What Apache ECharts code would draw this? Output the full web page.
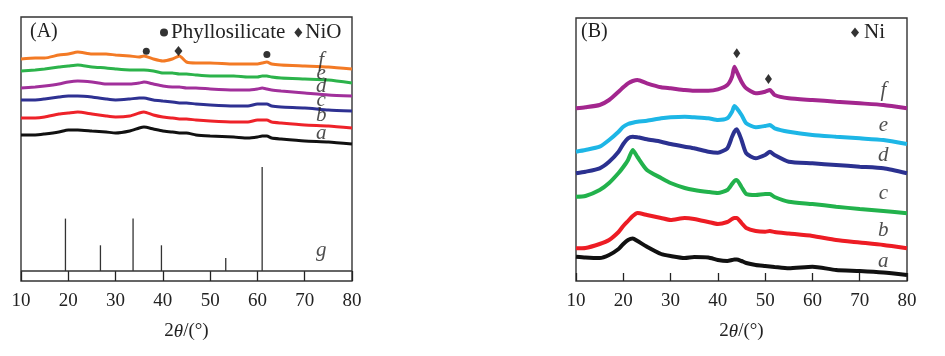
<!DOCTYPE html>
<html>
<head>
<meta charset="utf-8">
<script src="https://cdn.jsdelivr.net/npm/echarts@6/dist/echarts.min.js"></script>
<style>
html,body{margin:0;padding:0;background:#fff;}
#c{width:945px;height:356px;}
</style>
</head>
<body>
<div id="c"></div>
<script>
// ---------- Panel A (calcined samples) ----------
const angleA = [10,13,15,18,20,22,25,28,30,33,35,36,38,40,42,43.5,45,47,50,55,58,60,61,62,63,65,70,75,80];
const A_a = [146,146,147,149,151,151,150,149,148,150,153,154,152,150,149,148,148,146,145,144,143,144,145,145,143,142,140,139,137];
const A_b = [163,163,164,167,168,169,167,165,164,165,168,169,166,164,163,162,162,161,160,159,159,161,161,161,159,158,156,155,153];
const A_c = [181,181,182,184,185,185,184,182,181,182,183,183,181,180,179,178,178,177,176,175,175,177,177,177,175,174,173,171,170];
const A_d = [193,194,195,197,199,200,199,197,197,197,198,199,197,195,194,194,193,193,192,191,191,192,193,192,191,190,188,186,185];
const A_e = [210,211,212,214,215,216,214,213,212,211,211,211,210,208,208,207,207,206,205,205,204,204,205,205,204,203,202,201,198];
const A_f = [222,223,223,226,227,229,227,227,226,225,224,225,222,220,222,225,219,218,218,217,217,217,218,219,217,216,215,214,212];
// reference stick pattern g
const stickAngles = [19.4,26.8,33.7,39.7,53.3,61.0];
const stickTops = [62.4,35.7,62.4,35.7,23,114];
const stickBase = 10;
// peak markers
const phylloPeaks = [[36.5,229.7],[62.0,226.4]];
const nioPeaks = [[43.3,230]];
const labelsA = [['a',73.5,147.7],['b',73.5,165.7],['c',73.5,180.7],['d',73.5,194.7],['e',73.5,208],['f',73.5,220.7],['g',73.5,30.7]];

// ---------- Panel B (reduced samples) ----------
const angleB = [10,12,15,17,19,20,21,22,23,25,28,30,33,35,38,40,42,43,43.5,44,45,46,48,50,51,52,55,60,65,70,75,80];
const B_a = [24.3,23.5,23,26,32,37,41,42.5,40,34.3,27,25,23,24,23.5,21,20,21,21.5,21.5,20,18,16,15,14.5,14,12.7,14.3,11,10,8.5,6];
const B_b = [32.7,33,37,41,49,55,60,65,68,66,63,61,63,62,59,57,59,62,63,63,58,53,50,49.3,50,49,47.5,45,41,38.5,36,32.7];
const B_c = [84.3,85,91,98,108,114,121,131,124,111,103,98,93,91,89,88,91,97,100,101,94,87,86,87,87,84,79.3,77,74.3,72,70,67.7];
const B_d = [107.7,109.3,112.7,119.3,129.3,137,142.7,144.3,143.7,141.7,139.3,137,134.3,132.7,129.3,128.3,132.7,144.3,149.3,151.7,141,127.7,122.7,126,129.3,126,119.3,117.7,116,114.3,112.7,107.7];
const B_e = [129.3,131,134.3,141,149.3,154.3,157,158.3,159.3,160.3,162.7,163.7,164.3,163.7,162.7,161,162.7,169.3,175,172.7,166,157.7,153.7,155,156,152.7,149.3,146,144.3,142.7,141,137];
const B_f = [172.7,173.7,176,181,189.3,193.7,197.7,200,201,197.7,193.7,192.7,191,190.3,190.3,191.7,196,204.3,214.3,209.3,199.3,192.7,187.7,189.3,191,186,182.7,181,179.3,177.7,176,172.7];
const niPeaks = [[44.0,227.7],[50.7,202]];
const labelsB = [['a',75,19.3],['b',75,51],['c',75,87.7],['d',75,126],['e',75,156],['f',75,191]];

const xTicks = [10,20,30,40,50,60,70,80];

const zip = (xs, ys) => xs.map((x, i) => [x, ys[i]]);
const SERIF = '"Liberation Serif","Times New Roman",serif';

const colA = {a:'#111111', b:'#EE2229', c:'#2E3192', d:'#A1309B', e:'#2CB34B', f:'#F37A25'};
const colB = {a:'#111111', b:'#ED1C24', c:'#22B24C', d:'#2B3190', e:'#1DB6E6', f:'#A3268E'};

function lineSeries(name, data, color, idx, width) {
  return {
    name: name, type: 'line', xAxisIndex: idx, yAxisIndex: idx,
    data: data, showSymbol: false, symbol: 'none', smooth: 0.2,
    lineStyle: {color: color, width: width}, z: 3, silent: true
  };
}

function xAxisDef(idx, tickLen) {
  return {
    type: 'value', gridIndex: idx, min: 10, max: 80, interval: 10,
    axisLine: {show: false},
    axisTick: {show: true, inside: true, length: tickLen, lineStyle: {color: '#222', width: 1.3}},
    axisLabel: {show: true, margin: 11, color: '#222', fontFamily: SERIF, fontSize: 19,
      formatter: v => xTicks.includes(v) ? String(v) : ''},
    splitLine: {show: false},
    name: '{n|2}{i|θ}{n|/(°)}',
    nameLocation: 'middle', nameGap: 41,
    nameTextStyle: {rich: {
      n: {fontFamily: SERIF, fontSize: 19, color: '#222'},
      i: {fontFamily: SERIF, fontSize: 19, fontStyle: 'italic', color: '#222'}
    }}
  };
}

const series = [];
['a','b','c','d','e','f'].forEach(k => {
  const ys = {a:A_a,b:A_b,c:A_c,d:A_d,e:A_e,f:A_f}[k];
  series.push(lineSeries('A-' + k, zip(angleA, ys), colA[k], 0, 3));
});
['a','b','c','d','e','f'].forEach(k => {
  const ys = {a:B_a,b:B_b,c:B_c,d:B_d,e:B_e,f:B_f}[k];
  series.push(lineSeries('B-' + k, zip(angleB, ys), colB[k], 1, 4));
});
// baseline of stick pattern
series.push({
  type: 'line', xAxisIndex: 0, yAxisIndex: 0, data: [[10, stickBase],[80, stickBase]],
  symbol: 'none', lineStyle: {color: '#333', width: 1.3}, silent: true
});
// sticks
series.push({
  type: 'custom', xAxisIndex: 0, yAxisIndex: 0, silent: true,
  data: zip(stickAngles, stickTops),
  renderItem: function (params, api) {
    const p0 = api.coord([api.value(0), stickBase]);
    const p1 = api.coord([api.value(0), api.value(1)]);
    return {type: 'line', shape: {x1: p0[0], y1: p0[1], x2: p1[0], y2: p1[1]},
      style: {stroke: '#333', lineWidth: 1.3}};
  }
});
// peak markers
series.push({name: 'Phyllosilicate', type: 'scatter', xAxisIndex: 0, yAxisIndex: 0,
  data: phylloPeaks, symbol: 'circle', symbolSize: 7, itemStyle: {color: '#000'}, z: 5});
series.push({name: 'NiO', type: 'scatter', xAxisIndex: 0, yAxisIndex: 0,
  data: nioPeaks, symbol: 'diamond', symbolSize: [8, 10], itemStyle: {color: '#000'}, z: 5});
series.push({name: 'Ni', type: 'scatter', xAxisIndex: 1, yAxisIndex: 1,
  data: niPeaks, symbol: 'diamond', symbolSize: [7, 10], itemStyle: {color: '#000'}, z: 5});
// curve labels
function labelSeries(list, idx) {
  return {
    type: 'scatter', xAxisIndex: idx, yAxisIndex: idx, symbolSize: 0, z: 6, silent: true,
    data: list.map(l => ({value: [l[1], l[2]], name: l[0]})),
    label: {show: true, position: 'inside', formatter: p => p.name,
      fontFamily: SERIF, fontStyle: 'italic', fontSize: 21, color: '#222'}
  };
}
series.push(labelSeries(labelsA, 0));
series.push(labelSeries(labelsB, 1));

const option = {
  animation: false,
  backgroundColor: '#fff',
  title: [
    {text: '(A)', left: 30, top: 22, padding: 0,
      textStyle: {fontFamily: SERIF, fontWeight: 'normal', fontSize: 20, color: '#222'}},
    {text: '(B)', left: 581, top: 22, padding: 0,
      textStyle: {fontFamily: SERIF, fontWeight: 'normal', fontSize: 20, color: '#222'}}
  ],
  legend: [
    {data: ['Phyllosilicate', 'NiO'], left: 160, top: 22, padding: 0, itemGap: 9,
      itemWidth: 8, itemHeight: 10, selectedMode: false,
      textStyle: {fontFamily: SERIF, fontSize: 21, color: '#222', padding: [0,0,0,-2]}},
    {data: ['Ni'], left: 851, top: 22, padding: 0,
      itemWidth: 8, itemHeight: 10, selectedMode: false,
      textStyle: {fontFamily: SERIF, fontSize: 21, color: '#222'}}
  ],
  grid: [
    {left: 21, top: 17, width: 331, height: 264, show: true, borderColor: '#333', borderWidth: 1.4, backgroundColor: 'transparent'},
    {left: 576, top: 18, width: 331, height: 263, show: true, borderColor: '#333', borderWidth: 1.4, backgroundColor: 'transparent'}
  ],
  xAxis: [xAxisDef(0, 10), xAxisDef(1, 8)],
  yAxis: [
    {type: 'value', gridIndex: 0, min: 0, max: 264, show: false},
    {type: 'value', gridIndex: 1, min: 0, max: 263, show: false}
  ],
  series: series
};

const chart = echarts.init(document.getElementById('c'), null, {renderer: 'canvas'});
chart.setOption(option);
</script>
</body>
</html>
